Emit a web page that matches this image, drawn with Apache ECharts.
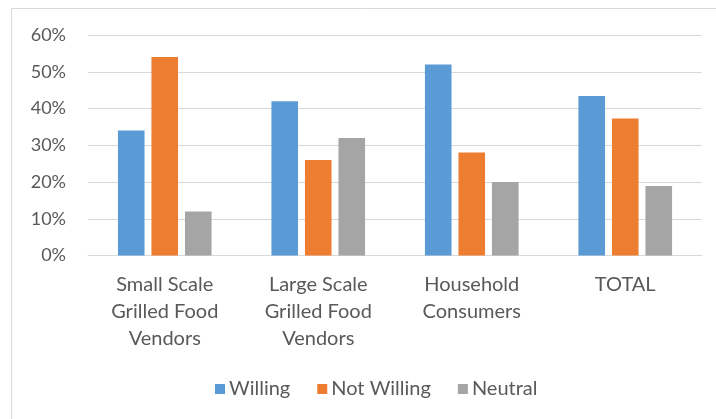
<!DOCTYPE html>
<html>
<head>
<meta charset="utf-8">
<script src="https://cdn.jsdelivr.net/npm/echarts@6/dist/echarts.min.js"></script>
<style>
  html, body { margin: 0; padding: 0; background: #ffffff; }
  #chart { width: 716px; height: 419px; }
</style>
</head>
<body>
<div id="chart"></div>
<script>
// Survey groups along the x axis
const categories = [
  'Small Scale\nGrilled Food\nVendors',
  'Large Scale\nGrilled Food\nVendors',
  'Household\nConsumers',
  'TOTAL'
];

// Share of respondents (%) per answer
const willing    = [34, 42, 52, 43.4];
const notWilling = [54, 26, 28, 37.3];
const neutral    = [12, 32, 20, 18.9];

const seriesNames = ['Willing', 'Not Willing', 'Neutral'];
const colors = ['#5B9BD5', '#ED7D31', '#A5A5A5'];

const fontFamily = 'Lato, "Open Sans", sans-serif';
const textColor = '#595959';
const gridColor = '#D9D9D9';

const chart = echarts.init(document.getElementById('chart'), null, { renderer: 'canvas' });

chart.setOption({
  animation: false,
  color: colors,
  graphic: [{
    type: 'rect',
    shape: { x: 11.5, y: 8.5, width: 740, height: 440 },
    style: { fill: 'none', stroke: gridColor, lineWidth: 1 },
    silent: true
  }],
  grid: { left: 88, right: 14, top: 35, bottom: 163.5, containLabel: false },
  legend: {
    data: seriesNames,
    left: 210,
    top: 374,
    icon: 'rect',
    itemWidth: 10,
    itemHeight: 10,
    itemGap: 27,
    textStyle: { color: textColor, fontSize: 20, fontFamily: fontFamily, padding: [0, 0, 0, -1] }
  },
  xAxis: {
    type: 'category',
    data: categories,
    axisLine: { show: true, lineStyle: { color: gridColor, width: 1 } },
    axisTick: { show: false },
    axisLabel: {
      interval: 0,
      margin: 16,
      color: textColor,
      fontSize: 20,
      fontFamily: fontFamily,
      lineHeight: 27
    }
  },
  yAxis: {
    type: 'value',
    min: 0,
    max: 60,
    interval: 10,
    axisLine: { show: false },
    axisTick: { show: false },
    splitLine: { lineStyle: { color: gridColor, width: 1 } },
    axisLabel: {
      formatter: '{value}%',
      margin: 22,
      color: textColor,
      fontSize: 18,
      fontFamily: fontFamily
    }
  },
  series: [
    { name: seriesNames[0], type: 'bar', data: willing, barGap: '26%', barCategoryGap: '39%' },
    { name: seriesNames[1], type: 'bar', data: notWilling, barGap: '26%', barCategoryGap: '39%' },
    { name: seriesNames[2], type: 'bar', data: neutral, barGap: '26%', barCategoryGap: '39%' }
  ]
});
</script>
</body>
</html>
